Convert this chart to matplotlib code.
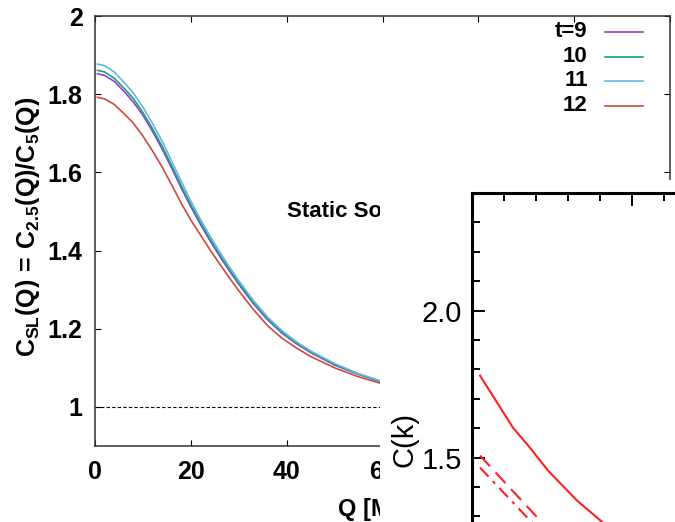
import numpy as np
import matplotlib
matplotlib.use('Agg')
import matplotlib.pyplot as plt
from matplotlib.patches import Rectangle

plt.rcParams['font.family'] = ['Liberation Sans', 'DejaVu Sans']
plt.rcParams['mathtext.fontset'] = 'custom'
plt.rcParams['mathtext.rm'] = 'Liberation Sans:bold'
plt.rcParams['mathtext.bf'] = 'Liberation Sans:bold'
plt.rcParams['mathtext.it'] = 'Liberation Sans:bold'
plt.rcParams['mathtext.default'] = 'bf'

# main panel: correlation ratio vs Q, one curve per t
q = [0.5, 2, 4, 6, 8, 10, 12, 14, 16, 18, 20, 22, 24, 26, 28, 30,
     33, 36, 39, 42, 45, 50, 55, 60, 65, 70]
c_t9 = [1.852, 1.848, 1.833, 1.808, 1.780, 1.746, 1.705, 1.660, 1.611, 1.560, 1.512,
        1.467, 1.425, 1.386, 1.349, 1.314, 1.265, 1.223, 1.189, 1.162, 1.139, 1.107,
        1.083, 1.063, 1.048, 1.036]
c_t10 = [1.861, 1.857, 1.841, 1.816, 1.789, 1.753, 1.712, 1.667, 1.617, 1.566, 1.517,
         1.472, 1.429, 1.390, 1.353, 1.317, 1.268, 1.226, 1.191, 1.164, 1.141, 1.109,
         1.084, 1.064, 1.048, 1.036]
c_t11 = [1.877, 1.873, 1.857, 1.831, 1.803, 1.767, 1.725, 1.680, 1.629, 1.577, 1.527,
         1.480, 1.437, 1.397, 1.359, 1.323, 1.273, 1.230, 1.195, 1.167, 1.143, 1.111,
         1.085, 1.065, 1.049, 1.037]
c_t12 = [1.792, 1.788, 1.774, 1.751, 1.726, 1.693, 1.655, 1.614, 1.568, 1.521, 1.478,
         1.440, 1.402, 1.366, 1.331, 1.297, 1.250, 1.208, 1.176, 1.151, 1.129, 1.100,
         1.077, 1.059, 1.044, 1.033]
labels = ['t=9', '10', '11', '12']
colors = ['#9440c8', '#1f9e80', '#62b8e0', '#d0493d']

# inset panel: C(k)
k_solid = [0.025, 0.128, 0.181, 0.2375, 0.328, 0.409, 0.45]
c_solid = [1.779, 1.602, 1.534, 1.456, 1.354, 1.279, 1.248]
k_dash = [0.025, 0.12, 0.22, 0.26]
c_dash = [1.507, 1.395, 1.278, 1.235]
k_dashdot = [0.025, 0.19, 0.23]
c_dashdot = [1.466, 1.276, 1.232]

W, H = 675, 522
fig = plt.figure(figsize=(6.75, 5.22), dpi=100)
ax = fig.add_axes([95/W, 1-446/H, 575/W, 430/H])

series = [c_t9, c_t10, c_t11, c_t12]
for ys, col in zip(series, colors):
    ax.plot(q, ys, color=col, lw=1.2)
ax.axhline(1.0, color='black', lw=0.8, dashes=(3, 2))

ax.set_xlim(0, 120)
ax.set_ylim(0.9, 2.0)
ax.set_xticks(np.arange(0, 121, 20))
ax.set_yticks([1, 1.2, 1.4, 1.6, 1.8, 2])
ax.set_yticklabels(['1', '1.2', '1.4', '1.6', '1.8', '2'])
ax.tick_params(direction='in', length=4, top=True, right=True, labelsize=18)
ax.tick_params(axis='y', pad=9)
ax.tick_params(axis='x', pad=10)
for lab in ax.get_xticklabels() + ax.get_yticklabels():
    lab.set_fontweight('bold')
for sp in ax.spines.values():
    sp.set_linewidth(1.1)
    sp.set_color('#333333')
ax.set_xlabel('Q [MeV]', fontsize=17, fontweight='bold', labelpad=10)
ax.set_ylabel(r'$C_{SL}(Q)\,=\,C_{2.5}(Q)/C_5(Q)$', fontsize=18)
ax.yaxis.set_label_coords(-0.092, 0.51)
ax.text(40, 1.5, 'Static Source', fontsize=16, fontweight='bold', va='center')

# legend drawn by hand: right aligned labels, sample line to the right
leg_y = [0.963, 0.905, 0.849, 0.791]
for lab, col, yy in zip(labels, colors, leg_y):
    ax.text(0.857, yy, lab, transform=ax.transAxes, ha='right', va='center',
            fontsize=16, fontweight='bold')
    ax.plot([0.887, 0.953], [yy, yy], transform=ax.transAxes, color=col, lw=1.2)

# pasted-over inset figure
fig.patches.append(Rectangle((380/W, 0), 295/W, (H-180)/H, transform=fig.transFigure,
                             facecolor='white', edgecolor='none', zorder=1))

ins_bottom = 1 - 604.6/H
ins = fig.add_axes([472/W, ins_bottom, 320/W, (1-193/H) - ins_bottom])
ins.set_zorder(2)
ins.plot(k_solid, c_solid, color='#ff2020', lw=1.5)
ins.plot(k_dash, c_dash, color='#ff2020', lw=1.5, dashes=(7, 4))
ins.plot(k_dashdot, c_dashdot, color='#ff2020', lw=1.5, dashes=(6, 3, 1.5, 3))
ins.set_xlim(0, 1.0)
ins.set_ylim(1.0, 2.4)
ins.set_yticks([1.0, 1.5, 2.0])
ins.set_yticks(np.arange(1.0, 2.41, 0.1), minor=True)
ins.set_xticks([0, 0.5, 1.0])
ins.set_xticks(np.arange(0, 1.01, 0.1), minor=True)
ins.set_yticklabels(['1.0', '1.5', '2.0'])
ins.tick_params(which='both', direction='in', top=True, right=True, width=1.4,
                labelbottom=False, labelsize=21, pad=7)
ins.tick_params(which='major', length=9)
ins.tick_params(which='minor', length=6)
for sp in ins.spines.values():
    sp.set_linewidth(2.2)
ins.text(-0.2125, 0.40, 'C(k)', transform=ins.transAxes, rotation=90,
         ha='center', va='center', fontsize=21)

fig.savefig('out.png', dpi=100)
